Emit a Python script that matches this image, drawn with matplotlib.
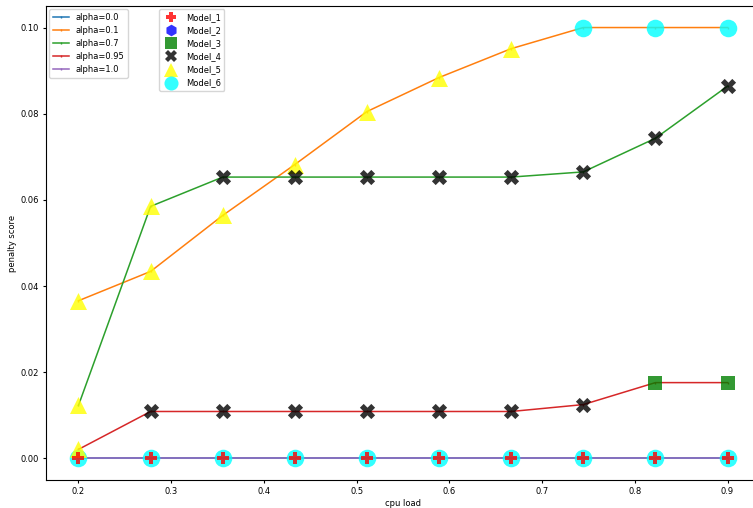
import matplotlib.pyplot as plt
from matplotlib.lines import Line2D

cpuLoad = [0.2, 0.2778, 0.3556, 0.4333, 0.5111, 0.5889, 0.6667, 0.7444, 0.8222, 0.9]

alphaLabels = ["alpha=0.0", "alpha=0.1", "alpha=0.7", "alpha=0.95", "alpha=1.0"]
scoreAlpha00 = [0, 0, 0, 0, 0, 0, 0, 0, 0, 0]
scoreAlpha01 = [0.0366, 0.0434, 0.0564, 0.0682, 0.0805, 0.0884, 0.0951, 0.1, 0.1, 0.1]
scoreAlpha07 = [0.0123, 0.0585, 0.0653, 0.0653, 0.0653, 0.0653, 0.0653, 0.0665, 0.0743, 0.0864]
scoreAlpha095 = [0.0021, 0.0109, 0.0109, 0.0109, 0.0109, 0.0109, 0.0109, 0.0125, 0.0176, 0.0176]
scoreAlpha10 = [0, 0, 0, 0, 0, 0, 0, 0, 0, 0]

# which model (0..5) was chosen at each point for each alpha
modelAlpha00 = [5, 5, 5, 5, 5, 5, 5, 5, 5, 5]
modelAlpha01 = [4, 4, 4, 4, 4, 4, 4, 5, 5, 5]
modelAlpha07 = [4, 4, 3, 3, 3, 3, 3, 3, 3, 3]
modelAlpha095 = [4, 3, 3, 3, 3, 3, 3, 3, 2, 2]
modelAlpha10 = [0, 0, 0, 0, 0, 0, 0, 0, 0, 0]

modelNames = ["Model_1", "Model_2", "Model_3", "Model_4", "Model_5", "Model_6"]
modelMarkers = ["P", "h", "s", "X", "^", "o"]
modelColors = ["red", "blue", "green", "black", "yellow", "cyan"]
modelSizes = [80, 110, 110, 120, 150, 160]

scores = [scoreAlpha00, scoreAlpha01, scoreAlpha07, scoreAlpha095, scoreAlpha10]
models = [modelAlpha00, modelAlpha01, modelAlpha07, modelAlpha095, modelAlpha10]

plt.rcParams['font.size'] = 6
plt.rcParams['xtick.major.size'] = 2.5
plt.rcParams['ytick.major.size'] = 2.5
plt.rcParams['xtick.major.pad'] = 2.5
plt.rcParams['ytick.major.pad'] = 2.5
plt.rcParams['axes.labelpad'] = 2.5
fig = plt.figure(figsize=(7.53, 5.08), dpi=100)
ax = fig.add_axes([46 / 753, 28 / 508, 714 / 753, 474 / 508])

lineHandles = []
for i in range(len(scores)):
    h, = ax.plot(cpuLoad, scores[i], label=alphaLabels[i], linewidth=1.1,
                 marker='|', markersize=2)
    lineHandles.append(h)

for i in range(len(scores)):
    for j in range(len(cpuLoad)):
        m = models[i][j]
        ax.scatter(cpuLoad[j], scores[i][j], marker=modelMarkers[m], color=modelColors[m],
                   s=modelSizes[m], alpha=0.8, linewidths=0, zorder=3)

ax.set_ylim(-0.005, 0.105)
ax.set_xlim(0.165, 0.935)
ax.set_xlabel("cpu load")
ax.set_ylabel("penalty score")

leg1 = ax.legend(handles=lineHandles, loc="upper left", borderaxespad=0.4)
ax.add_artist(leg1)
modelHandles = []
for k in range(len(modelNames)):
    modelHandles.append(Line2D([], [], linestyle='', marker=modelMarkers[k], color=modelColors[k],
                               markersize=modelSizes[k] ** 0.5 * 0.8, alpha=0.8,
                               markeredgewidth=0, label=modelNames[k]))
ax.legend(handles=modelHandles, loc="upper left", bbox_to_anchor=(0.155, 0.998),
          borderaxespad=0.3)

fig.savefig("out.png")
